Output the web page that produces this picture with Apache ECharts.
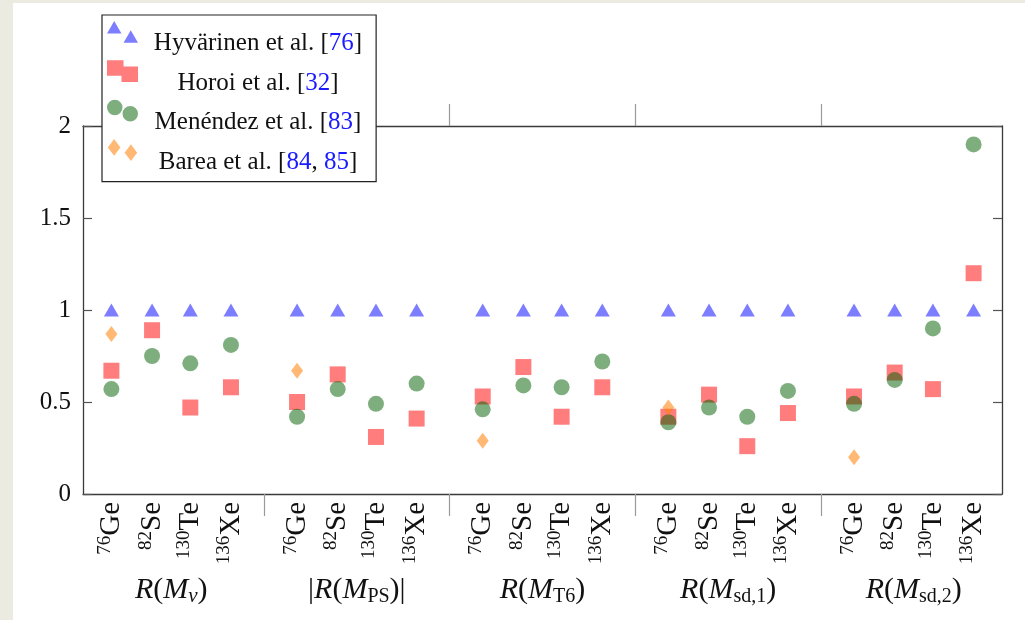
<!DOCTYPE html>
<html><head><meta charset="utf-8">
<script src="https://cdn.jsdelivr.net/npm/echarts@6/dist/echarts.min.js"></script>
<style>
html,body{margin:0;padding:0;background:#ecebe1;width:1025px;height:620px;overflow:hidden;}
#frame{position:absolute;left:13px;top:3px;right:0;bottom:0;background:#fff;}
#chart{position:absolute;left:0;top:0;width:1025px;height:620px;}
</style></head><body>
<div id="frame"></div><div id="chart"></div>
<script>
// ---- data ----
const groupSubs = ['ν', 'PS', 'T6', 'sd,1', 'sd,2'];
const groupAbs = [false, true, false, false, false];
const massNumbers = ['76', '82', '130', '136'];
const elements = ['Ge', 'Se', 'Te', 'Xe'];
const yTicks = [0, 0.5, 1, 1.5, 2];
const seriesNames = ['Hyvärinen et al. [76]', 'Horoi et al. [32]', 'Menéndez et al. [83]', 'Barea et al. [84, 85]'];
const hyvarinen = [1, 1, 1, 1, 1, 1, 1, 1, 1, 1, 1, 1, 1, 1, 1, 1, 1, 1, 1, 1];
const horoi = [0.67, 0.89, 0.47, 0.58, 0.50, 0.65, 0.31, 0.41, 0.53, 0.69, 0.42, 0.58, 0.42, 0.54, 0.26, 0.44, 0.53, 0.66, 0.57, 1.20];
const menendez = [0.57, 0.75, 0.71, 0.81, 0.42, 0.57, 0.49, 0.60, 0.46, 0.59, 0.58, 0.72, 0.39, 0.47, 0.42, 0.56, 0.49, 0.62, 0.90, 1.90];
const barea = [0.87, null, null, null, 0.67, null, null, null, 0.29, null, null, null, 0.47, null, null, null, 0.20, null, null, null];

// ---- layout ----
const SLOT = [0.178, 0.397, 0.603, 0.822];
const XMIN = 0.025, XMAX = 4.975;
const FONT = '"Liberation Serif", "Times New Roman", serif';
const xPos = i => Math.floor(i / 4) + SLOT[i % 4];
const positions = hyvarinen.map((_, i) => xPos(i));
const toData = arr => arr.map((v, i) => v == null ? null : [xPos(i), v]).filter(d => d);

function isoLabel(value) {
  let best = 0, bd = 1e9;
  positions.forEach((p, i) => { const d = Math.abs(p - value); if (d < bd) { bd = d; best = i; } });
  const k = best % 4;
  return '{sup|' + massNumbers[k] + '}{el|' + elements[k] + '}';
}
function groupLabel(value) {
  const g = Math.round(value - 0.5);
  const s = groupSubs[g];
  const sub = s === 'ν' ? '{subit|ν}' : '{sub|' + s + '}';
  const bar = groupAbs[g] ? '{rm||}' : '';
  return bar + '{it|R}{rm|(}{it|M}' + sub + '{rm|)}' + bar;
}
function legendRich(name) {
  return name.split(/(\d+)/).filter(s => s.length)
    .map(s => /^\d+$/.test(s) ? '{n|' + s + '}' : '{t|' + s + '}').join('');
}
const icons = [
  'path://M7,0L14,12L0,12Z M23,9L30,21L16,21Z',
  'path://M0,0H16V15H0Z M14,6H30V21H14Z',
  'path://M0,7.5A7.5,7.5,0,1,1,15,7.5A7.5,7.5,0,1,1,0,7.5Z M15,13.5A7.5,7.5,0,1,1,30,13.5A7.5,7.5,0,1,1,15,13.5Z',
  'path://M6,0L12,8L6,16L0,8Z M22,5L28,13L22,21L16,13Z'
];
const colors = ['rgba(0,0,255,0.64)', 'rgba(255,0,0,0.64)', 'rgba(0,95,0,0.63)', 'rgba(255,125,0,0.68)'];

const chart = echarts.init(document.getElementById('chart'), null, { renderer: 'canvas' });
const axisLineStyle = { color: '#3a3a3a', width: 1.3 };
const option = {
  animation: false,
  backgroundColor: 'transparent',
  grid: { left: 83, right: 23, top: 126, bottom: 126, containLabel: false },
  legend: {
    orient: 'vertical', left: 102, top: 15,
    itemWidth: 31, itemHeight: 22, itemGap: 4,
    padding: [6, 14, 7, 5],
    backgroundColor: '#fff', borderColor: '#222', borderWidth: 1.2,
    selectedMode: false,
    formatter: legendRich,
    textStyle: {
      fontFamily: FONT, fontSize: 25, color: '#111', width: 230, padding: [24, 0, 0, 0],
      rich: {
        t: { fontFamily: FONT, fontSize: 25, color: '#111', align: 'center', lineHeight: 26 },
        n: { fontFamily: FONT, fontSize: 25, color: '#1a1aff', align: 'center', lineHeight: 26 }
      }
    },
    data: seriesNames.map((n, i) => ({ name: n, icon: icons[i] }))
  },
  xAxis: [
    {
      type: 'value', min: XMIN, max: XMAX, position: 'bottom',
      axisLine: { show: true, onZero: false, lineStyle: axisLineStyle },
      axisTick: { show: true, inside: false, length: 22, customValues: [1, 2, 3, 4], lineStyle: { color: '#9a9a9a', width: 1.2 } },
      splitLine: { show: false },
      axisLabel: {
        customValues: positions, rotate: 90, margin: 8, formatter: isoLabel,
        rich: {
          sup: { fontFamily: FONT, fontSize: 19, color: '#111', verticalAlign: 'top', lineHeight: 18 },
          el: { fontFamily: FONT, fontSize: 29, color: '#111', lineHeight: 32 }
        }
      }
    },
    {
      type: 'value', min: XMIN, max: XMAX, position: 'bottom',
      axisLine: { show: false, onZero: false }, axisTick: { show: false }, splitLine: { show: false },
      axisLabel: {
        customValues: [0.5, 1.5, 2.5, 3.5, 4.5], margin: 79, formatter: groupLabel,
        rich: {
          it: { fontFamily: FONT, fontStyle: 'italic', fontSize: 30, color: '#111', lineHeight: 34 },
          rm: { fontFamily: FONT, fontSize: 30, color: '#111', lineHeight: 34 },
          sub: { fontFamily: FONT, fontSize: 20, color: '#111', verticalAlign: 'bottom', lineHeight: 15 },
          subit: { fontFamily: FONT, fontStyle: 'italic', fontSize: 21, color: '#111', verticalAlign: 'bottom', lineHeight: 15 }
        }
      }
    },
    {
      type: 'value', min: XMIN, max: XMAX, position: 'top',
      axisLine: { show: true, onZero: false, lineStyle: axisLineStyle },
      axisTick: { show: true, inside: false, length: 22, customValues: [1, 2, 3, 4], lineStyle: { color: '#9a9a9a', width: 1.2 } },
      splitLine: { show: false }, axisLabel: { show: false }
    }
  ],
  yAxis: [
    {
      type: 'value', min: yTicks[0], max: yTicks[yTicks.length - 1], interval: 0.5, position: 'left',
      axisLine: { show: true, onZero: false, lineStyle: axisLineStyle },
      axisTick: { show: true, inside: true, length: 9, lineStyle: { color: '#555', width: 1.2 } },
      splitLine: { show: false },
      axisLabel: { fontFamily: FONT, fontSize: 25, color: '#111', margin: 12 }
    },
    {
      type: 'value', min: yTicks[0], max: yTicks[yTicks.length - 1], interval: 0.5, position: 'right',
      axisLine: { show: true, onZero: false, lineStyle: axisLineStyle },
      axisTick: { show: true, inside: true, length: 9, lineStyle: { color: '#555', width: 1.2 } },
      splitLine: { show: false }, axisLabel: { show: false }
    }
  ],
  series: [
    { name: seriesNames[0], type: 'scatter', symbol: 'triangle', symbolSize: [15, 13],
      itemStyle: { color: colors[0] }, data: toData(hyvarinen) },
    { name: seriesNames[1], type: 'scatter', symbol: 'rect', symbolSize: [16, 16],
      itemStyle: { color: colors[1] }, data: toData(horoi) },
    { name: seriesNames[2], type: 'scatter', symbol: 'circle', symbolSize: 16,
      itemStyle: { color: colors[2] }, data: toData(menendez) },
    { name: seriesNames[3], type: 'scatter', symbol: 'diamond', symbolSize: [12, 16],
      itemStyle: { color: colors[3] }, data: toData(barea) }
  ]
};
chart.setOption(option);
</script>
</body></html>
